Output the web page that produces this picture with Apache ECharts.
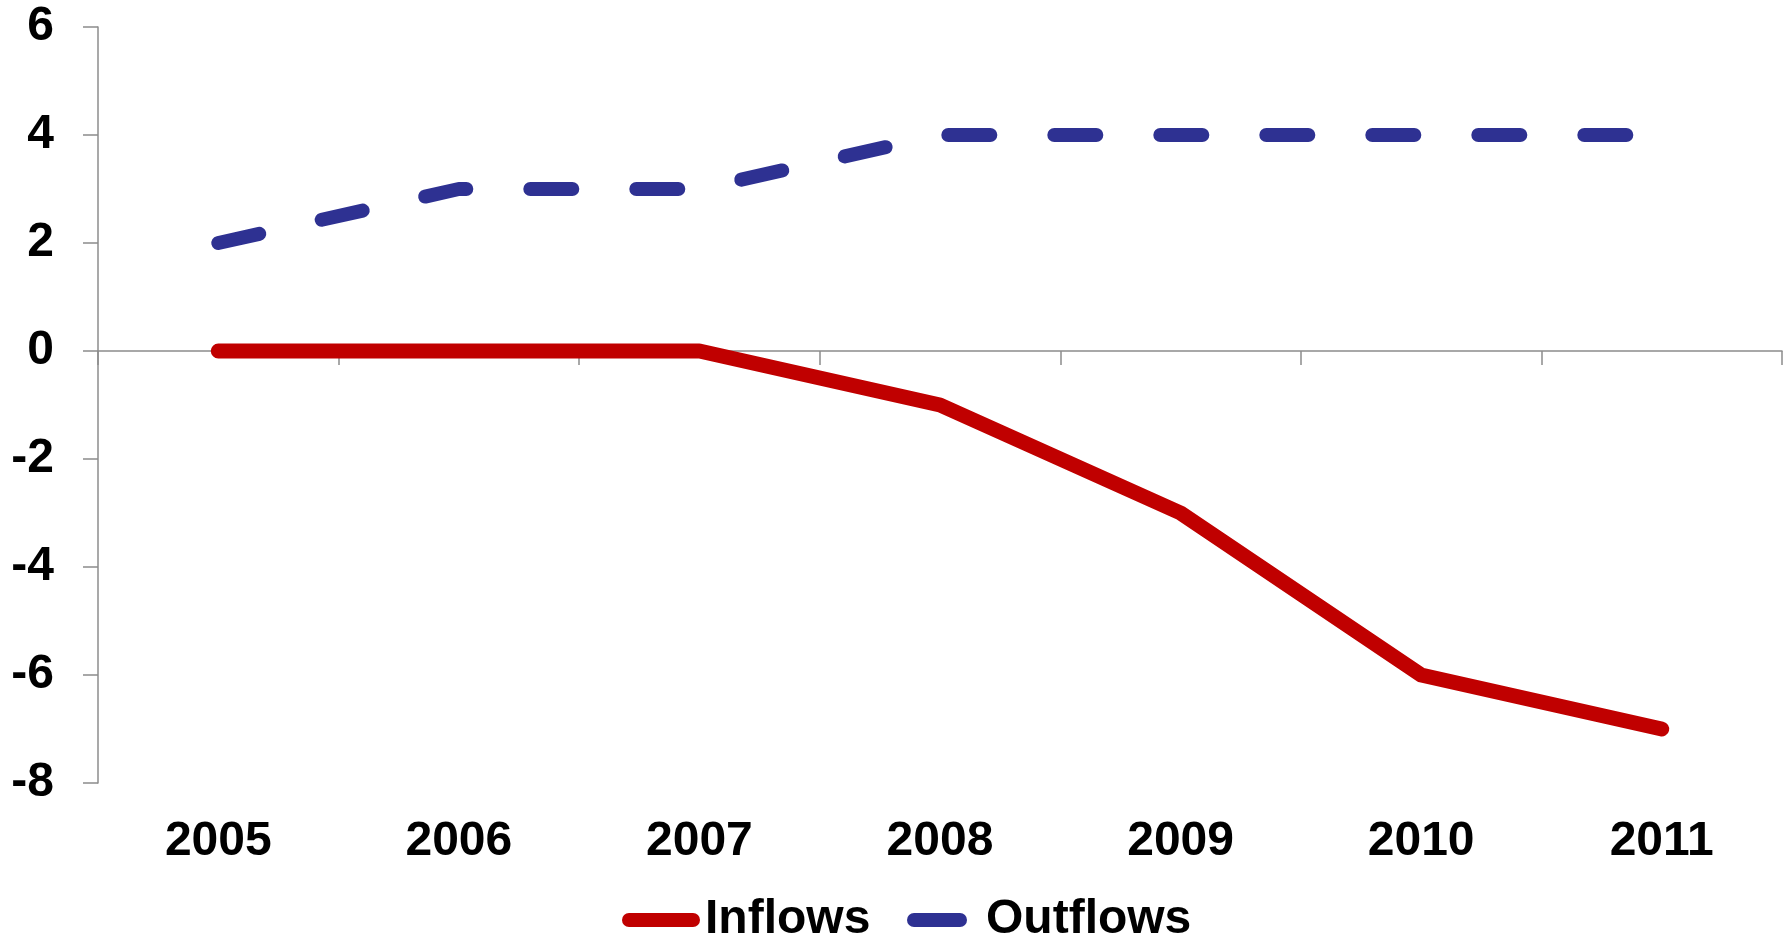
<!DOCTYPE html>
<html>
<head>
<meta charset="utf-8">
<script src="https://cdn.jsdelivr.net/npm/echarts@6/dist/echarts.min.js"></script>
<style>html,body{margin:0;padding:0;background:#fff;}#c{width:1787px;height:938px;}</style>
</head>
<body>
<div id="c"></div>
<script>
const years = ['2005', '2006', '2007', '2008', '2009', '2010', '2011'];
const inflows = [0, 0, 0, -1, -3, -6, -7];
const outflows = [2, 3, 3, 4, 4, 4, 4];
const yMin = -8, yMax = 6, yStep = 2;

const FONT = '"Liberation Sans", Arial, sans-serif';
const axisGray = '#8c8c8c';
const chart = echarts.init(document.getElementById('c'));
chart.setOption({
  animation: false,
  backgroundColor: '#ffffff',
  grid: { left: 98, right: 5, top: 27, bottom: 155, containLabel: false, outerBoundsMode: 'none' },
  legend: [
    {
      data: [{ name: 'Inflows', icon: 'path://M7,0H71A7,7,0,0,1,71,14H7A7,7,0,0,1,7,0Z' }],
      left: 617, top: 891, itemWidth: 78, itemHeight: 14, itemGap: 0,
      textStyle: { fontFamily: FONT, fontSize: 48, fontWeight: 'bold', color: '#000', padding: [0, 0, 0, 0] }
    },
    {
      data: [{ name: 'Outflows', icon: 'path://M7,0H53A7,7,0,0,1,53,14H7A7,7,0,0,1,7,0Z' }],
      left: 902, top: 891, itemWidth: 60, itemHeight: 14, itemGap: 0,
      textStyle: { fontFamily: FONT, fontSize: 48, fontWeight: 'bold', color: '#000', padding: [0, 0, 0, 14] }
    }
  ],
  xAxis: {
    type: 'category',
    data: years,
    boundaryGap: true,
    axisLine: { onZero: true, lineStyle: { color: axisGray, width: 1.5 } },
    axisTick: { show: true, length: 14, alignWithLabel: false, lineStyle: { color: axisGray, width: 1.5 } },
    axisLabel: { margin: 35, fontFamily: FONT, fontSize: 48, fontWeight: 'bold', color: '#000' },
    splitLine: { show: false }
  },
  yAxis: {
    type: 'value',
    min: yMin, max: yMax, interval: yStep,
    axisLine: { show: true, lineStyle: { color: axisGray, width: 1.5 } },
    axisTick: { show: true, length: 15, lineStyle: { color: axisGray, width: 1.5 } },
    axisLabel: { margin: 44, fontFamily: FONT, fontSize: 48, fontWeight: 'bold', color: '#000' },
    splitLine: { show: false }
  },
  series: [
    {
      name: 'Inflows', type: 'line', data: inflows,
      symbol: 'none', color: '#C00000',
      itemStyle: { color: '#C00000' },
      lineStyle: { color: '#C00000', width: 15, cap: 'round', join: 'round' }
    },
    {
      name: 'Outflows', type: 'line', data: outflows,
      symbol: 'none', color: '#2E3192',
      itemStyle: { color: '#2E3192' },
      lineStyle: { color: '#2E3192', width: 14, type: [42, 64], cap: 'round', join: 'round' }
    }
  ]
});
</script>
</body>
</html>
